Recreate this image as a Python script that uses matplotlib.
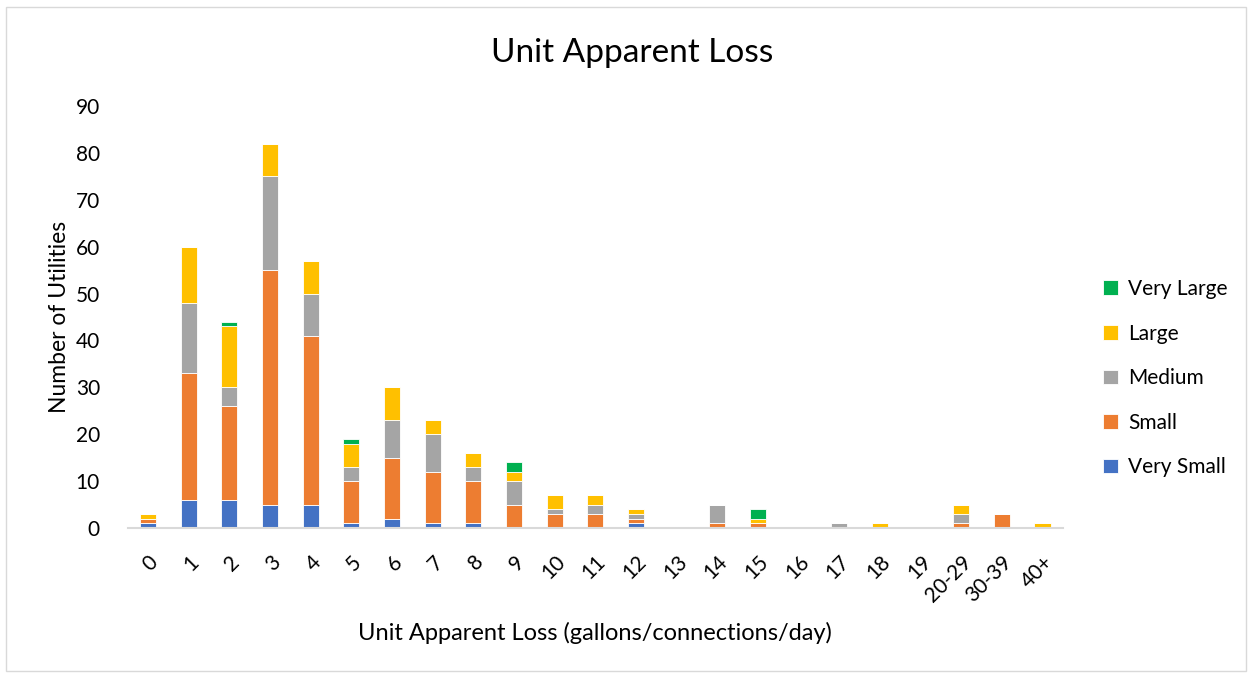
import numpy as np
import matplotlib.pyplot as plt
from matplotlib.patches import Rectangle

plt.rcParams['font.family'] = ['Lato', 'DejaVu Sans']

categories = ["0", "1", "2", "3", "4", "5", "6", "7", "8", "9", "10", "11", "12",
              "13", "14", "15", "16", "17", "18", "19", "20-29", "30-39", "40+"]
very_small = [1, 6, 6, 5, 5, 1, 2, 1, 1, 0, 0, 0, 1, 0, 0, 0, 0, 0, 0, 0, 0, 0, 0]
small = [1, 27, 20, 50, 36, 9, 13, 11, 9, 5, 3, 3, 1, 0, 1, 1, 0, 0, 0, 0, 1, 3, 0]
medium = [0, 15, 4, 20, 9, 3, 8, 8, 3, 5, 1, 2, 1, 0, 4, 0, 0, 1, 0, 0, 2, 0, 0]
large = [1, 12, 13, 7, 7, 5, 7, 3, 3, 2, 3, 2, 1, 0, 0, 1, 0, 0, 1, 0, 2, 0, 1]
very_large = [0, 0, 1, 0, 0, 1, 0, 0, 0, 2, 0, 0, 0, 0, 0, 2, 0, 0, 0, 0, 0, 0, 0]

series = [
    ("Very Small", very_small, "#4472C4"),
    ("Small", small, "#ED7D31"),
    ("Medium", medium, "#A5A5A5"),
    ("Large", large, "#FFC000"),
    ("Very Large", very_large, "#00B050"),
]

fig = plt.figure(figsize=(12.52, 6.74), dpi=100)
ax = fig.add_axes([0.102, 0.2166, 0.747, 0.6261])

x = np.arange(len(categories))
bottom = np.zeros(len(categories))
handles = []
for name, vals, color in series:
    vals = np.array(vals, dtype=float)
    b = ax.bar(x, vals, 0.4, bottom=bottom, color=color, edgecolor="white",
               linewidth=0.6, label=name)
    handles.append(b)
    bottom += vals

ax.set_xlim(-0.5, len(categories) - 0.5)
ax.set_ylim(0, 90)
ax.set_yticks(range(0, 91, 10))
ax.set_xticks(x)
ax.set_xticklabels(categories, rotation=45, ha="right", rotation_mode="anchor")
ax.tick_params(axis="both", length=0, labelsize=15, colors="#000000")
ax.tick_params(axis="y", pad=20)
ax.tick_params(axis="x", pad=17)
for s in ["top", "right", "left"]:
    ax.spines[s].set_visible(False)
ax.spines["bottom"].set_color("#D9D9D9")
ax.spines["bottom"].set_linewidth(1.5)

ax.set_ylabel("Number of Utilities", fontsize=16.5, labelpad=4)
ax.set_xlabel("Unit Apparent Loss (gallons/connections/day)", fontsize=17, labelpad=12)
fig.text(0.505, 0.922, "Unit Apparent Loss", fontsize=24, ha="center", va="center")

fig.legend(handles[::-1], [h.get_label() for h in handles[::-1]],
           loc="center left", bbox_to_anchor=(0.866, 0.439), frameon=False,
           fontsize=15, handlelength=0.7, handleheight=0.7, handletextpad=0.5,
           labelspacing=1.18)

fig.patches.append(Rectangle((0.005, 0.005), 0.99, 0.985, transform=fig.transFigure,
                             fill=False, edgecolor="#D9D9D9", linewidth=1))

fig.savefig("out.png", dpi=100)
